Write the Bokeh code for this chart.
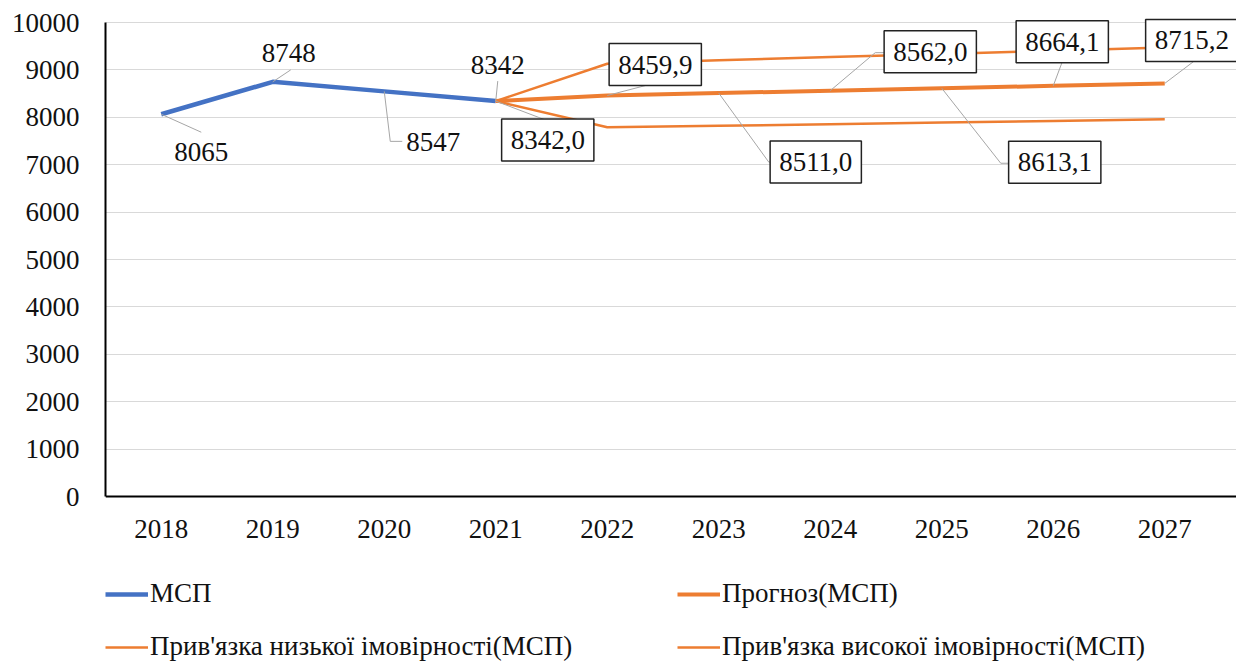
from bokeh.plotting import figure
from bokeh.models import (Label, Legend, LegendItem, FixedTicker, Range1d)
from bokeh.embed import file_html
from bokeh.resources import INLINE

# ---------------- data ----------------
years_hist = [2018, 2019, 2020, 2021]
msp = [8065, 8748, 8547, 8342]
years_fc = [2021, 2022, 2023, 2024, 2025, 2026, 2027]
forecast = [8342.0, 8459.9, 8511.0, 8562.0, 8613.1, 8664.1, 8715.2]
low_bound = [8342, 7790, 7821, 7854, 7888, 7924, 7960]
high_bound = [8342, 9130, 9201, 9270, 9338, 9404, 9470]
x_ticks = [2018, 2019, 2020, 2021, 2022, 2023, 2024, 2025, 2026, 2027]
y_ticks = [0, 1000, 2000, 3000, 4000, 5000, 6000, 7000, 8000, 9000, 10000]
hist_labels = ["8065", "8748", "8547", "8342"]
fc_labels = ["8342,0", "8459,9", "8511,0", "8562,0", "8613,1", "8664,1", "8715,2"]
legend_names = ["МСП", "Прогноз(МСП)", "Прив'язка низької імовірності(МСП)",
                "Прив'язка високої імовірності(МСП)"]

BLUE = "#4472C4"
ORANGE = "#ED7D31"
FONT = "Liberation Serif"
FS = "27px"

# ---------------- layout ----------------
W, H = 1236, 664
ML, MR, MT, MB = 105, 0, 12, 0
AXIS_Y = 496                 # page y of value 0
PXX = 111.5                  # px per year
PXY = 474 / 10000            # px per unit
FW = W - ML - MR
X0 = 2017.5
X1 = X0 + FW / PXX
Y1 = (AXIS_Y - MT) / PXY
Y0 = -(H - MB - AXIS_Y) / PXY

p = figure(width=W, height=H, output_backend="svg", toolbar_location=None,
           x_range=Range1d(X0, X1), y_range=Range1d(Y0, Y1),
           min_border_left=ML, min_border_right=MR, min_border_top=MT,
           min_border_bottom=MB)
p.outline_line_color = None
p.xgrid.grid_line_color = None
p.ygrid.grid_line_color = "#D9D9D9"
p.ygrid.grid_line_width = 1

p.xaxis.ticker = FixedTicker(ticks=x_ticks)
p.xaxis.fixed_location = 0
p.yaxis.ticker = FixedTicker(ticks=y_ticks)
p.yaxis.bounds = (0, 10000)
for ax in (p.xaxis, p.yaxis):
    ax.axis_line_color = "black"
    ax.axis_line_width = 2
    ax.major_tick_line_color = None
    ax.minor_tick_line_color = None
    ax.major_tick_out = 0
    ax.major_tick_in = 0
    ax.major_label_text_font = FONT
    ax.major_label_text_font_size = FS
    ax.major_label_text_color = "#111111"
p.xaxis.major_label_standoff = 23
p.yaxis.major_label_standoff = 26

# ---------------- lines ----------------
r_msp = p.line(years_hist, msp, line_color=BLUE, line_width=4.5)
r_fc = p.line(years_fc, forecast, line_color=ORANGE, line_width=4)
r_lo = p.line(years_fc, low_bound, line_color=ORANGE, line_width=2.5)
r_hi = p.line(years_fc, high_bound, line_color=ORANGE, line_width=2.5)

# ---------------- labels with leader lines ----------------
def to_data(xa, ya, dx, dy):
    return xa + dx / PXX, ya - dy / PXY

# (label center offset, leader path offsets) in px from the point, y down
hist_off = [((40, 38), [(40, 18)]),
            ((16, -29), [(18, -12)]),
            ((49, 51), [(6, 50), (18, 50)]),
            ((2, -36), [(2, -20)])]
fc_off = [((52, 39), [(50, 19)]),
          ((48, -31), [(46, -12)]),
          ((97, 69), [(50, 69), (61, 69)]),
          ((100, -39), [(45, -38), (55, -38)]),
          ((113, 74), [(59, 75), (68, 75)]),
          ((9, -44), [(9, -24)]),
          ((27, -43), [(29, -22)])]

def add_labels(xs, ys, texts, offs, boxed):
    for x, y, t, (c, path) in zip(xs, ys, texts, offs):
        lx, ly = to_data(x, y, *c)
        pts = [(x, y)] + [to_data(x, y, *q) for q in path]
        p.line([q[0] for q in pts], [q[1] for q in pts], line_color="#A6A6A6",
               line_width=1)
        kw = dict(x=lx, y=ly, text=t, text_font=FONT, text_font_size=FS,
                  text_color="#111111", text_align="center", text_baseline="middle")
        if boxed:
            kw.update(border_line_color="#222222", border_line_width=1.5,
                      background_fill_color="white", padding=dict(x=9, y=12))
        p.add_layout(Label(**kw))

add_labels(years_hist, msp, hist_labels, hist_off, False)
add_labels(years_fc, forecast, fc_labels, fc_off, True)

# ---------------- legends ----------------
def make_legend(items, xloc):
    lg = Legend(items=items, location=(xloc, 2), orientation="vertical",
                label_text_font=FONT, label_text_font_size=FS,
                label_text_color="#111111", glyph_width=43, glyph_height=20,
                label_height=20, label_standoff=2, spacing=22, padding=0,
                margin=0, border_line_color=None, background_fill_alpha=0)
    p.add_layout(lg, "center")

make_legend([LegendItem(label=legend_names[0], renderers=[r_msp]),
             LegendItem(label=legend_names[2], renderers=[r_lo])], 0)
make_legend([LegendItem(label=legend_names[1], renderers=[r_fc]),
             LegendItem(label=legend_names[3], renderers=[r_hi])], 572)

open("out.html", "w").write(file_html(p, INLINE))
